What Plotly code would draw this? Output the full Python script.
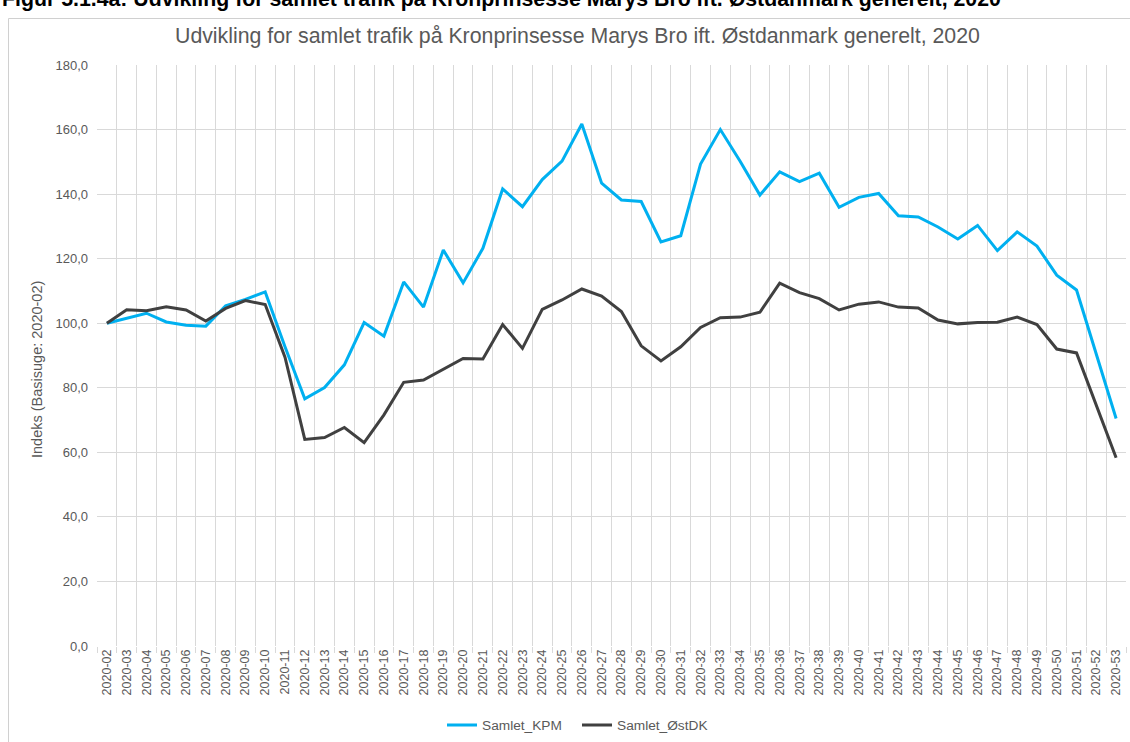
import plotly.graph_objects as go

weeks = ["2020-02", "2020-03", "2020-04", "2020-05", "2020-06", "2020-07", "2020-08", "2020-09",
         "2020-10", "2020-11", "2020-12", "2020-13", "2020-14", "2020-15", "2020-16", "2020-17",
         "2020-18", "2020-19", "2020-20", "2020-21", "2020-22", "2020-23", "2020-24", "2020-25",
         "2020-26", "2020-27", "2020-28", "2020-29", "2020-30", "2020-31", "2020-32", "2020-33",
         "2020-34", "2020-35", "2020-36", "2020-37", "2020-38", "2020-39", "2020-40", "2020-41",
         "2020-42", "2020-43", "2020-44", "2020-45", "2020-46", "2020-47", "2020-48", "2020-49",
         "2020-50", "2020-51", "2020-52", "2020-53"]

samlet_kpm = [100.0, 101.5, 103.1, 100.4, 99.4, 99.1, 105.4, 107.4, 109.7, 92.7,
              76.6, 80.1, 87.1, 100.2, 96.0, 112.8, 105.0, 122.7, 112.5, 123.2,
              141.6, 136.1, 144.5, 150.2, 161.7, 143.4, 138.2, 137.7, 125.2, 127.1,
              149.3, 160.0, 150.2, 139.7, 146.9, 143.9, 146.5, 135.9, 139.0, 140.2,
              133.3, 132.9, 129.8, 126.1, 130.3, 122.5, 128.3, 123.9, 114.9, 110.3,
              90.4, 70.5]

samlet_ostdk = [100.0, 104.2, 103.9, 105.1, 104.1, 100.7, 104.6, 107.0, 105.8, 89.5,
                64.0, 64.6, 67.7, 63.0, 71.6, 81.7, 82.4, 85.8, 89.1, 88.9,
                99.6, 92.2, 104.3, 107.2, 110.6, 108.4, 103.6, 93.0, 88.3, 92.7,
                98.7, 101.7, 101.9, 103.4, 112.4, 109.5, 107.6, 104.1, 105.9, 106.6,
                105.0, 104.7, 101.0, 99.8, 100.2, 100.3, 101.9, 99.6, 92.0, 90.8,
                74.8, 58.3]

series_names = ["Samlet_KPM", "Samlet_ØstDK"]
chart_title = "Udvikling for samlet trafik på Kronprinsesse Marys Bro ift. Østdanmark generelt, 2020"
figure_caption = "Figur 5.1.4a: Udvikling for samlet trafik på Kronprinsesse Marys Bro ift. Østdanmark generelt, 2020"
y_title = "Indeks (Basisuge: 2020-02)"

W, H = 1130, 742
L, R, T, B = 97, 4, 65, 96
PW = W - L - R
PH = H - T - B

def px(x):
    return (x - L) / PW

def py(y):
    return (H - B - y) / PH

FONT = "Liberation Sans, Arial, sans-serif"
GRAY = "#595959"
GRID = "#d9d9d9"

fig = go.Figure()
fig.add_trace(go.Scatter(x=weeks, y=samlet_kpm, mode="lines", name=series_names[0],
                         line=dict(color="#00B0F0", width=3)))
fig.add_trace(go.Scatter(x=weeks, y=samlet_ostdk, mode="lines", name=series_names[1],
                         line=dict(color="#404040", width=3)))

fig.update_layout(
    width=W, height=H,
    margin=dict(l=L, r=R, t=T, b=B, autoexpand=False),
    paper_bgcolor="white", plot_bgcolor="white",
    separators=",.",
    font=dict(family=FONT, size=13, color=GRAY),
    showlegend=True,
    legend=dict(orientation="h", x=px(577), xanchor="center", y=py(725), yanchor="middle",
                font=dict(family=FONT, size=13.7, color=GRAY), itemwidth=30,
                entrywidth=90, bgcolor="rgba(0,0,0,0)"),
    xaxis=dict(type="category", tickson="boundaries", showgrid=True, gridcolor=GRID, gridwidth=1,
               ticks="outside", ticklen=6, tickcolor=GRID, tickangle=-90,
               tickfont=dict(family=FONT, size=12.5, color=GRAY),
               showline=False, zeroline=False, range=[-0.5, len(weeks) - 0.5], automargin=False),
    yaxis=dict(range=[0, 180], dtick=20, tickformat=".1f", showgrid=True, gridcolor=GRID,
               gridwidth=1, zeroline=False, showline=False, ticks="", ticklabelstandoff=8,
               tickfont=dict(family=FONT, size=13, color=GRAY), automargin=False),
)

fig.add_annotation(x=px(577), y=py(36), xref="paper", yref="paper", text=chart_title,
                   showarrow=False, xanchor="center", yanchor="middle",
                   font=dict(family=FONT, size=21.3, color=GRAY))
fig.add_annotation(x=px(37), y=py(370), xref="paper", yref="paper", text=y_title,
                   showarrow=False, xanchor="center", yanchor="middle", textangle=-90,
                   font=dict(family=FONT, size=14.5, color=GRAY))
fig.add_annotation(x=px(0), y=py(-1), xref="paper", yref="paper", text="<b>" + figure_caption + "</b>",
                   showarrow=False, xanchor="left", yanchor="middle",
                   font=dict(family=FONT, size=21.3, color="black"))
fig.add_shape(type="rect", xref="paper", yref="paper",
              x0=px(8.5), y0=py(18.5), x1=px(W + 10), y1=py(H + 10),
              line=dict(color="#d0d0d0", width=1), fillcolor="rgba(0,0,0,0)", layer="below")

fig.write_html("out.html", config={"displayModeBar": False},
               post_script="document.body.style.margin='0';")
